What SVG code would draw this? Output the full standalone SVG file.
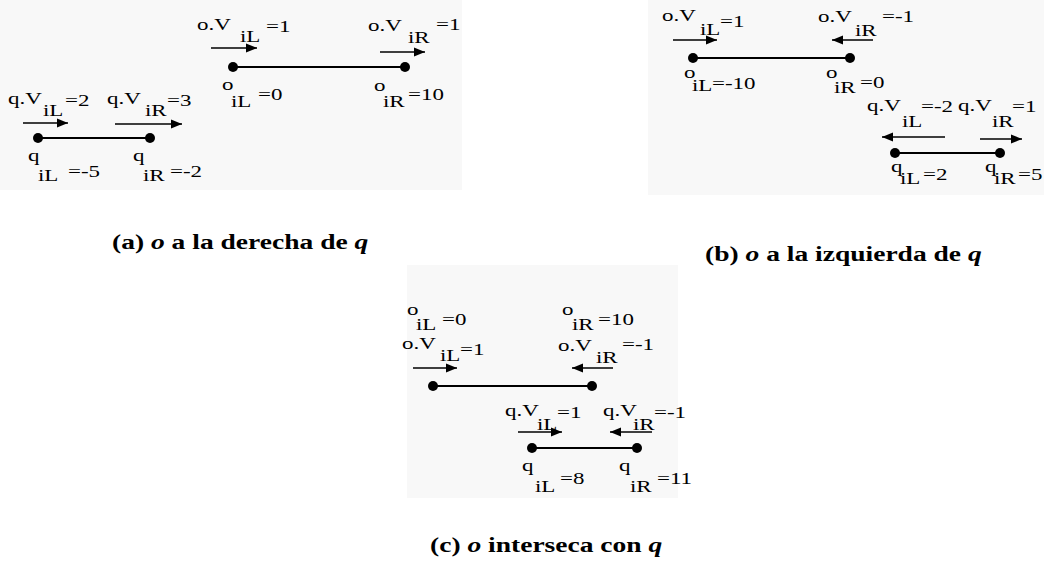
<svg xmlns="http://www.w3.org/2000/svg" width="1044" height="561" viewBox="0 0 1044 561">
<defs>
<style>
.t{font-family:"Liberation Serif","Times New Roman",serif;font-size:17px;fill:#000}
.cap{font-family:"Liberation Serif","Times New Roman",serif;font-size:20.7px;font-weight:bold;fill:#000}
.it{font-style:italic}
.bg{fill:#f8f8f8}
.seg{stroke:#000;stroke-width:1.8;fill:none}
.vel{stroke:#000;stroke-width:1.4;fill:none;marker-end:url(#ah)}
.dot{fill:#000}
</style>
<marker id="ah" markerUnits="userSpaceOnUse" markerWidth="12" markerHeight="10" refX="11" refY="5" orient="auto">
<path d="M0,0.5 L11,5 L0,9.5 z" fill="#000"/>
</marker>
</defs>
<rect width="1044" height="561" fill="#fff"/>
<g id="backgrounds">
<rect class="bg" x="0" y="0" width="462" height="190"/>
<rect class="bg" x="648" y="0" width="396" height="195"/>
<rect class="bg" x="407" y="265" width="271" height="233"/>
</g>
<g id="connectors">
<line class="seg" x1="233" y1="67" x2="405" y2="67"/>
<line class="seg" x1="38" y1="138" x2="150" y2="138"/>
<line class="seg" x1="693" y1="58" x2="850" y2="58"/>
<line class="seg" x1="895" y1="153" x2="1000" y2="153"/>
<line class="seg" x1="433" y1="386" x2="592" y2="386"/>
<line class="seg" x1="532" y1="448" x2="637" y2="448"/>
<line class="vel" x1="211" y1="48" x2="257" y2="48"/>
<line class="vel" x1="380" y1="52" x2="425" y2="52"/>
<line class="vel" x1="23" y1="123" x2="68" y2="123"/>
<line class="vel" x1="115" y1="124" x2="182" y2="124"/>
<line class="vel" x1="673" y1="40" x2="717" y2="40"/>
<line class="vel" x1="873" y1="40" x2="832" y2="40"/>
<line class="vel" x1="945" y1="137" x2="882" y2="137"/>
<line class="vel" x1="980" y1="139" x2="1022" y2="139"/>
<line class="vel" x1="413" y1="368" x2="457" y2="368"/>
<line class="vel" x1="613" y1="368" x2="572" y2="368"/>
<line class="vel" x1="518" y1="432" x2="562" y2="432"/>
<line class="vel" x1="652" y1="432" x2="610" y2="432"/>
</g>
<g id="a-oL">
<circle class="dot" cx="233" cy="67" r="5"/>
<text class="t" transform="translate(197,30) scale(1.35,1)">o.V</text>
<text class="t" transform="translate(240,42) scale(1.35,1)">iL</text>
<text class="t" transform="translate(266,32) scale(1.35,1)">=1</text>
<text class="t" transform="translate(222,90) scale(1.35,1)">o</text>
<text class="t" transform="translate(231,107) scale(1.35,1)">iL</text>
<text class="t" transform="translate(258,100) scale(1.35,1)">=0</text>
</g>
<g id="a-oR">
<circle class="dot" cx="405" cy="67" r="5"/>
<text class="t" transform="translate(368,31) scale(1.35,1)">o.V</text>
<text class="t" transform="translate(408,43) scale(1.35,1)">iR</text>
<text class="t" transform="translate(436,30) scale(1.35,1)">=1</text>
<text class="t" transform="translate(374,91) scale(1.35,1)">o</text>
<text class="t" transform="translate(383,107) scale(1.35,1)">iR</text>
<text class="t" transform="translate(408,100) scale(1.35,1)">=10</text>
</g>
<g id="a-qL">
<circle class="dot" cx="38" cy="138" r="5"/>
<text class="t" transform="translate(8,104) scale(1.35,1)">q.V</text>
<text class="t" transform="translate(43,116) scale(1.35,1)">iL</text>
<text class="t" transform="translate(65,106) scale(1.35,1)">=2</text>
<text class="t" transform="translate(28,161) scale(1.35,1)">q</text>
<text class="t" transform="translate(38,181) scale(1.35,1)">iL</text>
<text class="t" transform="translate(68,177) scale(1.35,1)">=-5</text>
</g>
<g id="a-qR">
<circle class="dot" cx="150" cy="138" r="5"/>
<text class="t" transform="translate(107,104) scale(1.35,1)">q.V</text>
<text class="t" transform="translate(145,116) scale(1.35,1)">iR</text>
<text class="t" transform="translate(167,106) scale(1.35,1)">=3</text>
<text class="t" transform="translate(133,161) scale(1.35,1)">q</text>
<text class="t" transform="translate(143,181) scale(1.35,1)">iR</text>
<text class="t" transform="translate(170,177) scale(1.35,1)">=-2</text>
</g>
<g id="b-oL">
<circle class="dot" cx="693" cy="58" r="5"/>
<text class="t" transform="translate(662,21) scale(1.35,1)">o.V</text>
<text class="t" transform="translate(700,35) scale(1.35,1)">iL</text>
<text class="t" transform="translate(720,27) scale(1.35,1)">=1</text>
<text class="t" transform="translate(684,78) scale(1.35,1)">o</text>
<text class="t" transform="translate(692,91) scale(1.35,1)">iL</text>
<text class="t" transform="translate(712,89) scale(1.35,1)">=-10</text>
</g>
<g id="b-oR">
<circle class="dot" cx="850" cy="58" r="5"/>
<text class="t" transform="translate(818,22) scale(1.35,1)">o.V</text>
<text class="t" transform="translate(855,36) scale(1.35,1)">iR</text>
<text class="t" transform="translate(882,22) scale(1.35,1)">=-1</text>
<text class="t" transform="translate(826,78) scale(1.35,1)">o</text>
<text class="t" transform="translate(834,93) scale(1.35,1)">iR</text>
<text class="t" transform="translate(860,88) scale(1.35,1)">=0</text>
</g>
<g id="b-qL">
<circle class="dot" cx="895" cy="153" r="5"/>
<text class="t" transform="translate(867,111) scale(1.35,1)">q.V</text>
<text class="t" transform="translate(902,127) scale(1.35,1)">iL</text>
<text class="t" transform="translate(921,112) scale(1.35,1)">=-2</text>
<text class="t" transform="translate(891,172) scale(1.35,1)">q</text>
<text class="t" transform="translate(900,184) scale(1.35,1)">iL</text>
<text class="t" transform="translate(923,180) scale(1.35,1)">=2</text>
</g>
<g id="b-qR">
<circle class="dot" cx="1000" cy="153" r="5"/>
<text class="t" transform="translate(958,111) scale(1.35,1)">q.V</text>
<text class="t" transform="translate(992,127) scale(1.35,1)">iR</text>
<text class="t" transform="translate(1012,112) scale(1.35,1)">=1</text>
<text class="t" transform="translate(985,172) scale(1.35,1)">q</text>
<text class="t" transform="translate(994,184) scale(1.35,1)">iR</text>
<text class="t" transform="translate(1018,180) scale(1.35,1)">=5</text>
</g>
<g id="c-oL">
<circle class="dot" cx="433" cy="386" r="5"/>
<text class="t" transform="translate(407,315) scale(1.35,1)">o</text>
<text class="t" transform="translate(416,330) scale(1.35,1)">iL</text>
<text class="t" transform="translate(442,325) scale(1.35,1)">=0</text>
<text class="t" transform="translate(402,349) scale(1.35,1)">o.V</text>
<text class="t" transform="translate(440,361) scale(1.35,1)">iL</text>
<text class="t" transform="translate(460,355) scale(1.35,1)">=1</text>
</g>
<g id="c-oR">
<circle class="dot" cx="592" cy="386" r="5"/>
<text class="t" transform="translate(562,315) scale(1.35,1)">o</text>
<text class="t" transform="translate(572,330) scale(1.35,1)">iR</text>
<text class="t" transform="translate(598,325) scale(1.35,1)">=10</text>
<text class="t" transform="translate(558,351) scale(1.35,1)">o.V</text>
<text class="t" transform="translate(596,363) scale(1.35,1)">iR</text>
<text class="t" transform="translate(622,350) scale(1.35,1)">=-1</text>
</g>
<g id="c-qL">
<circle class="dot" cx="532" cy="448" r="5"/>
<text class="t" transform="translate(505,416) scale(1.35,1)">q.V</text>
<text class="t" transform="translate(537,430) scale(1.35,1)">iL</text>
<text class="t" transform="translate(557,418) scale(1.35,1)">=1</text>
<text class="t" transform="translate(522,471) scale(1.35,1)">q</text>
<text class="t" transform="translate(535,492) scale(1.35,1)">iL</text>
<text class="t" transform="translate(560,484) scale(1.35,1)">=8</text>
</g>
<g id="c-qR">
<circle class="dot" cx="637" cy="448" r="5"/>
<text class="t" transform="translate(603,416) scale(1.35,1)">q.V</text>
<text class="t" transform="translate(633,430) scale(1.35,1)">iR</text>
<text class="t" transform="translate(654,418) scale(1.35,1)">=-1</text>
<text class="t" transform="translate(619,471) scale(1.35,1)">q</text>
<text class="t" transform="translate(630,492) scale(1.35,1)">iR</text>
<text class="t" transform="translate(657,484) scale(1.35,1)">=11</text>
</g>
<g id="captions">
<text class="cap" transform="translate(112,249) scale(1.33,1)">(a) <tspan class="it">o</tspan> a la derecha de <tspan class="it">q</tspan></text>
<text class="cap" transform="translate(705,261) scale(1.33,1)">(b) <tspan class="it">o</tspan> a la izquierda de <tspan class="it">q</tspan></text>
<text class="cap" transform="translate(430,552) scale(1.33,1)">(c) <tspan class="it">o</tspan> interseca con <tspan class="it">q</tspan></text>
</g>
</svg>
